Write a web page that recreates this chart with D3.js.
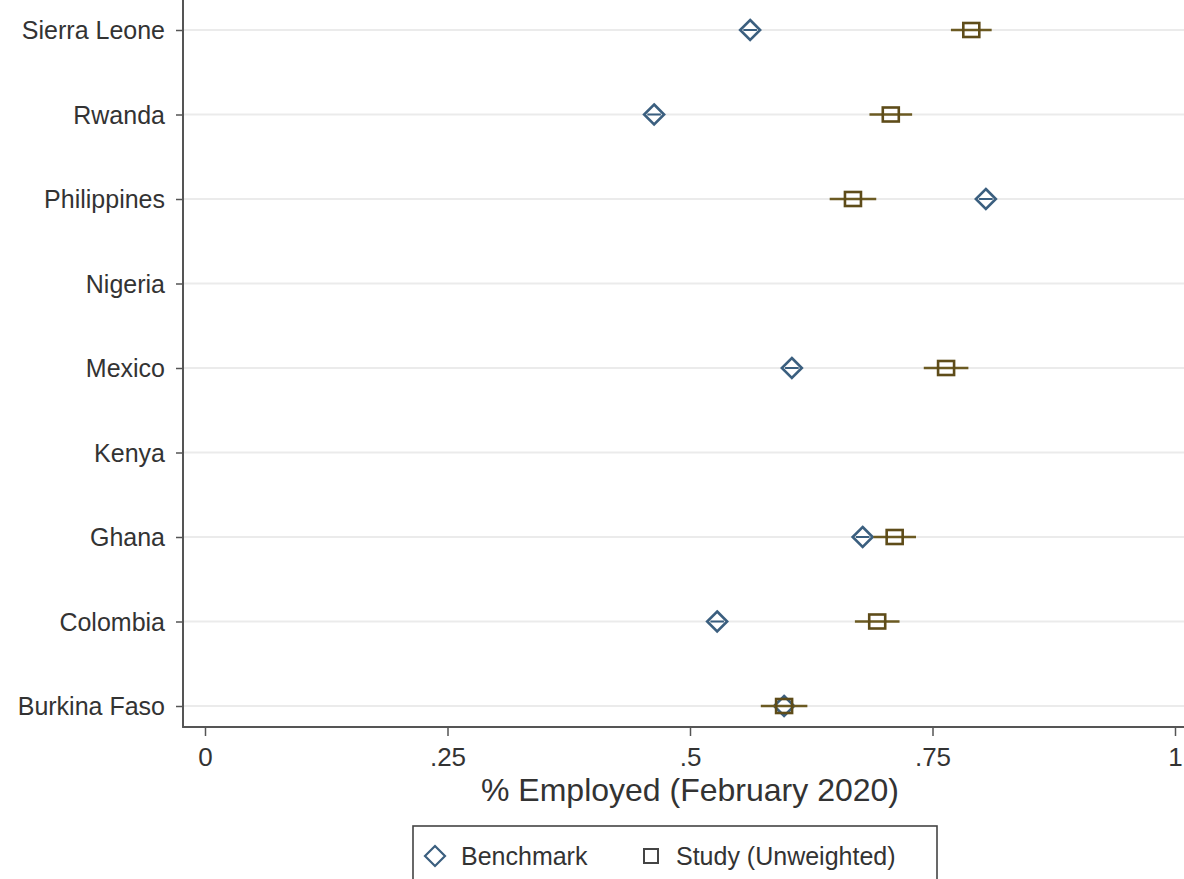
<!DOCTYPE html>
<html>
<head>
<meta charset="utf-8">
<script src="https://cdn.jsdelivr.net/npm/d3@7"></script>
<style>
  html, body { margin: 0; padding: 0; background: #fff; }
  svg { display: block; font-family: "Liberation Sans", Arial, sans-serif; }
</style>
</head>
<body>
<svg id="chart" width="1184" height="879"></svg>
<script>
// Countries, top to bottom
const countries = ["Sierra Leone", "Rwanda", "Philippines", "Nigeria", "Mexico", "Kenya", "Ghana", "Colombia", "Burkina Faso"];

// Benchmark share employed (null = no benchmark available)
const benchmark = [0.562, 0.463, 0.805, null, 0.605, null, 0.678, 0.528, 0.597];
const benchLo   = [0.555, 0.456, 0.798, null, 0.598, null, 0.671, 0.521, 0.590];
const benchHi   = [0.569, 0.470, 0.812, null, 0.612, null, 0.685, 0.535, 0.604];

// Study (unweighted) estimate with 95% CI
const study   = [0.790, 0.707, 0.668, null, 0.764, null, 0.711, 0.693, 0.597];
const studyLo = [0.769, 0.685, 0.644, null, 0.741, null, 0.689, 0.670, 0.573];
const studyHi = [0.811, 0.729, 0.692, null, 0.787, null, 0.733, 0.716, 0.621];

const xTicks = [0, 0.25, 0.5, 0.75, 1];
const xTickLabels = ["0", ".25", ".5", ".75", "1"];

const colBench = "#3b5f7f";
const colStudy = "#5e4c19";
const colCI = "#6b5a22";
const colText = "#333333";
const FONT = "Liberation Sans, Arial, sans-serif";

const svg = d3.select("#chart");

const plot = { left: 183, right: 1184, top: 0, bottom: 727 };

const x = d3.scaleLinear().domain([0, 1]).range([205, 1175]);
const y = d3.scalePoint().domain(countries).range([30, 706]);

// gridlines
svg.append("g").selectAll("line").data(countries).join("line")
  .attr("x1", plot.left).attr("x2", plot.right)
  .attr("y1", d => y(d)).attr("y2", d => y(d))
  .attr("stroke", "#ebebeb").attr("stroke-width", 2);

// y axis
const yAxis = svg.append("g").attr("transform", `translate(${plot.left},0)`)
  .call(d3.axisLeft(y).tickSize(7).tickPadding(11));
yAxis.select(".domain").remove();
yAxis.selectAll(".tick line").attr("stroke", "#555").attr("stroke-width", 1.5);
yAxis.selectAll(".tick text").attr("font-size", 25).attr("fill", colText)
  .attr("font-family", FONT).attr("dy", "0.35em");
svg.append("line").attr("x1", plot.left).attr("x2", plot.left)
  .attr("y1", plot.top).attr("y2", plot.bottom + 0.75)
  .attr("stroke", "#555").attr("stroke-width", 2);

// x axis
const xAxis = svg.append("g").attr("transform", `translate(0,${plot.bottom})`)
  .call(d3.axisBottom(x).tickValues(xTicks).tickFormat((d, i) => xTickLabels[i]).tickSize(9).tickPadding(12));
xAxis.select(".domain").remove();
xAxis.selectAll(".tick line").attr("stroke", "#555").attr("stroke-width", 1.5);
xAxis.selectAll(".tick text").attr("font-size", 26).attr("fill", colText)
  .attr("font-family", FONT);
svg.append("line").attr("x1", plot.left - 0.75).attr("x2", plot.right)
  .attr("y1", plot.bottom).attr("y2", plot.bottom)
  .attr("stroke", "#555").attr("stroke-width", 2);

svg.append("text").attr("x", 690).attr("y", 801).attr("text-anchor", "middle")
  .attr("font-size", 32).attr("fill", colText).text("% Employed (February 2020)");

const rows = countries.map((c, i) => ({
  c, b: benchmark[i], bl: benchLo[i], bh: benchHi[i],
  s: study[i], sl: studyLo[i], sh: studyHi[i]
}));

const diamondPath = r => `M0,${-r}L${r},0L0,${r}L${-r},0Z`;

// benchmark markers
const bg = svg.append("g");
rows.filter(d => d.b != null).forEach(d => {
  bg.append("line").attr("x1", x(d.bl)).attr("x2", x(d.bh))
    .attr("y1", y(d.c)).attr("y2", y(d.c))
    .attr("stroke", colBench).attr("stroke-width", 2);
  bg.append("path").attr("d", diamondPath(10))
    .attr("transform", `translate(${x(d.b)},${y(d.c)})`)
    .attr("fill", "none").attr("stroke", colBench).attr("stroke-width", 2.6);
});

// study estimates with CI
const sg = svg.append("g");
rows.filter(d => d.s != null).forEach(d => {
  sg.append("line").attr("x1", x(d.sl)).attr("x2", x(d.sh))
    .attr("y1", y(d.c)).attr("y2", y(d.c))
    .attr("stroke", colCI).attr("stroke-width", 2.4);
  sg.append("rect").attr("x", x(d.s) - 8).attr("y", y(d.c) - 7)
    .attr("width", 16).attr("height", 14)
    .attr("fill", "none").attr("stroke", colStudy).attr("stroke-width", 2.6);
});

// legend
const lg = svg.append("g");
lg.append("rect").attr("x", 413).attr("y", 826).attr("width", 524).attr("height", 70)
  .attr("fill", "#fff").attr("stroke", "#444").attr("stroke-width", 1.6);
lg.append("path").attr("d", diamondPath(10)).attr("transform", "translate(435,856)")
  .attr("fill", "none").attr("stroke", colBench).attr("stroke-width", 2.2);
lg.append("text").attr("x", 461).attr("y", 865).attr("font-size", 25).attr("fill", colText).text("Benchmark");
lg.append("rect").attr("x", 644).attr("y", 849).attr("width", 14).attr("height", 14)
  .attr("fill", "none").attr("stroke", "#444").attr("stroke-width", 2);
lg.append("text").attr("x", 676).attr("y", 865).attr("font-size", 25).attr("fill", colText).text("Study (Unweighted)");
</script>
</body>
</html>
